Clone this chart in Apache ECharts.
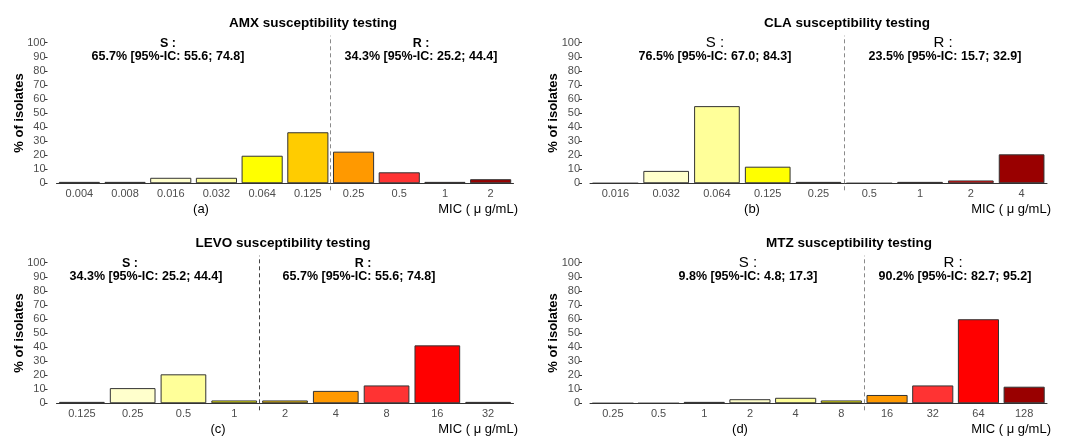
<!DOCTYPE html>
<html>
<head>
<meta charset="utf-8">
<script src="https://cdn.jsdelivr.net/npm/echarts@6/dist/echarts.min.js"></script>
<style>
  body { margin: 0; background: #fff; }
</style>
</head>
<body>
<div id="main" style="width: 1069px;height:437px;"></div>
<script type="text/javascript">
    // 数据：各抗生素 MIC 分布 (% of isolates)
    var cats_amx = ['0.004', '0.008', '0.016', '0.032', '0.064', '0.125', '0.25', '0.5', '1', '2'];
    var pct_amx = [1.0, 1.0, 3.9, 3.9, 19.6, 36.3, 22.5, 7.8, 1.0, 2.9];

    var cats_cla = ['0.016', '0.032', '0.064', '0.125', '0.25', '0.5', '1', '2', '4'];
    var pct_cla = [0, 8.8, 54.9, 11.8, 1.0, 0, 1.0, 2.0, 20.6];

    var cats_levo = ['0.125', '0.25', '0.5', '1', '2', '4', '8', '16', '32'];
    var pct_levo = [1.0, 10.8, 20.6, 2.0, 2.0, 8.8, 12.7, 41.2, 1.0];

    var cats_mtz = ['0.25', '0.5', '1', '2', '4', '8', '16', '32', '64', '128'];
    var pct_mtz = [0, 0, 1.0, 2.9, 3.9, 2.0, 5.9, 12.7, 59.8, 11.8];

    // breakpoint S/R (between category indexes)
    var cut_amx = 5.5, cut_cla = 4.5, cut_levo = 3.5, cut_mtz = 5.5;

    var yTicks = [0, 10, 20, 30, 40, 50, 60, 70, 80, 90, 100];

    // colours per bar
    var col_amx = ['#999999', '#999999', '#FFFFCC', '#FFFF99', '#FFFF00', '#FFCC00', '#FF9900', '#FF3333', '#990000', '#990000'];
    var col_cla = ['#999999', '#FFFFCC', '#FFFF99', '#FFFF00', '#8B6914', '#FF9900', '#990000', '#FF0000', '#990000'];
    var col_levo = ['#999999', '#FFFFCC', '#FFFF99', '#FFFF00', '#FFCC00', '#FF9900', '#FF3333', '#FF0000', '#990000'];
    var col_mtz = ['#999999', '#999999', '#999999', '#FFFFCC', '#FFFF99', '#FFFF00', '#FF9900', '#FF3333', '#FF0000', '#990000'];

    var FONT = '"Liberation Sans", Arial, sans-serif';

    var panels = [
        {cats: cats_amx, pct: pct_amx, cut: cut_amx, colors: col_amx,
         title: 'AMX susceptibility testing', tag: '(a)',
         sText: '65.7% [95%-IC: 55.6; 74.8]', rText: '34.3% [95%-IC: 25.2; 44.4]', big: false,
         grid: {left: 56.5, top: 35.7}, yOff: 9, dash: '#8a8a8a',
         pos: {title: [313, 23], s: [168, 44], sl: [168, 57], r: [421, 44], rl: [421, 57], tag: [201, 209], mic: [518, 209]}},
        {cats: cats_cla, pct: pct_cla, cut: cut_cla, colors: col_cla,
         title: 'CLA susceptibility testing', tag: '(b)',
         sText: '76.5% [95%-IC: 67.0; 84.3]', rText: '23.5% [95%-IC: 15.7; 32.9]', big: true,
         grid: {left: 590, top: 35.7}, yOff: 8, dash: '#8a8a8a',
         pos: {title: [847, 23], s: [715, 43], sl: [715, 57], r: [943, 43], rl: [945, 57], tag: [752, 209], mic: [1051, 209]}},
        {cats: cats_levo, pct: pct_levo, cut: cut_levo, colors: col_levo,
         title: 'LEVO susceptibility testing', tag: '(c)',
         sText: '34.3% [95%-IC: 25.2; 44.4]', rText: '65.7% [95%-IC: 55.6; 74.8]', big: false,
         grid: {left: 56.5, top: 255.7}, yOff: 9, dash: '#444',
         pos: {title: [283, 243], s: [130, 264], sl: [146, 277], r: [363, 264], rl: [359, 277], tag: [218, 429], mic: [518, 429]}},
        {cats: cats_mtz, pct: pct_mtz, cut: cut_mtz, colors: col_mtz,
         title: 'MTZ susceptibility testing', tag: '(d)',
         sText: '9.8% [95%-IC: 4.8; 17.3]', rText: '90.2% [95%-IC: 82.7; 95.2]', big: true,
         grid: {left: 590, top: 255.7}, yOff: 8, dash: '#8a8a8a',
         pos: {title: [849, 243], s: [748, 263], sl: [748, 277], r: [953, 263], rl: [955, 277], tag: [740, 429], mic: [1051, 429]}}
    ];

    function txt(p, text, font, align) {
        return {
            type: 'text', x: p[0], y: p[1], silent: true,
            style: {text: text, font: font, fill: '#000', align: align || 'center', verticalAlign: 'middle'}
        };
    }

    var grids = [], xAxes = [], yAxes = [], series = [], graphics = [];

    panels.forEach(function (p, i) {
        grids.push({left: p.grid.left, top: p.grid.top, width: 457, height: 154.6});
        // category axis for the bars
        xAxes.push({
            type: 'category', gridIndex: i, data: p.cats,
            axisLine: {onZero: true, lineStyle: {color: '#333', width: 1}},
            axisTick: {show: false},
            axisLabel: {color: '#4D4D4D', fontSize: 11, fontFamily: FONT, margin: -2, interval: 0}
        });
        // hidden value axis used for the breakpoint line
        xAxes.push({
            type: 'value', gridIndex: i, show: false, min: -0.5, max: p.cats.length - 0.5
        });
        yAxes.push({
            type: 'value', gridIndex: i, min: -5, max: 105, offset: p.yOff,
            name: '% of isolates', nameLocation: 'middle', nameRotate: 90, nameGap: 22,
            nameMoveOverlap: false,
            nameTextStyle: {fontSize: 13, fontWeight: 'bold', color: '#000', fontFamily: FONT},
            axisLine: {show: false, onZero: false},
            axisTick: {show: true, length: 3, customValues: yTicks, lineStyle: {color: '#333'}},
            axisLabel: {color: '#4D4D4D', fontSize: 11, fontFamily: FONT, margin: 2, customValues: yTicks},
            splitLine: {show: false}
        });
        series.push({
            type: 'bar', xAxisIndex: i * 2, yAxisIndex: i,
            barCategoryGap: '10%',
            data: p.pct.map(function (v, k) {
                return {value: v, itemStyle: {color: p.colors[k]}};
            }),
            itemStyle: {borderColor: '#333', borderWidth: 1},
            animation: false, silent: true
        });
        series.push({
            type: 'line', xAxisIndex: i * 2 + 1, yAxisIndex: i, data: [],
            markLine: {
                silent: true, symbol: ['none', 'none'], animation: false,
                label: {show: false},
                lineStyle: {type: [4, 3], color: p.dash, width: 1},
                data: [{xAxis: p.cut}]
            }
        });
        var sFont = p.big ? '15px ' + FONT : 'bold 12.5px ' + FONT;
        graphics.push(txt(p.pos.title, p.title, 'bold 13.5px ' + FONT));
        graphics.push(txt(p.pos.s, 'S :', sFont));
        graphics.push(txt(p.pos.sl, p.sText, 'bold 12.5px ' + FONT));
        graphics.push(txt(p.pos.r, 'R :', sFont));
        graphics.push(txt(p.pos.rl, p.rText, 'bold 12.5px ' + FONT));
        graphics.push(txt(p.pos.tag, p.tag, '13px ' + FONT));
        graphics.push(txt(p.pos.mic, 'MIC ( \u03bc g/mL)', '13px ' + FONT, 'right'));
    });

    var myChart = echarts.init(document.getElementById('main'));
    var option = {
        backgroundColor: '#fff',
        animation: false,
        grid: grids,
        xAxis: xAxes,
        yAxis: yAxes,
        series: series,
        graphic: graphics
    };
    myChart.setOption(option);
</script>
</body>
</html>
